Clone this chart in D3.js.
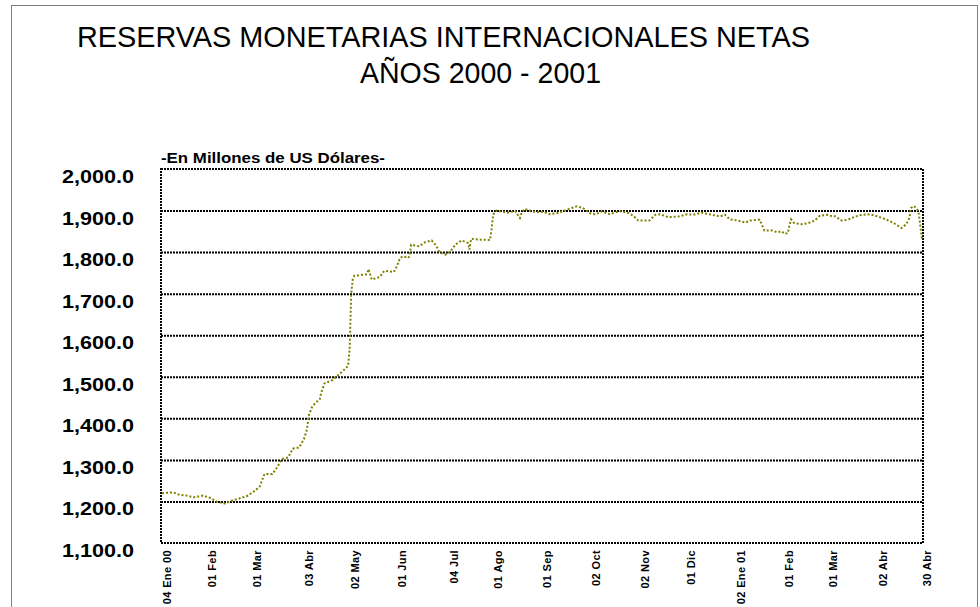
<!DOCTYPE html>
<html>
<head>
<meta charset="utf-8">
<script src="https://cdn.jsdelivr.net/npm/d3@7"></script>
<style>
body { margin: 0; background: #fff; }
text { font-family: "Liberation Sans", Arial, sans-serif; }
</style>
</head>
<body>
<svg id="chart" width="980" height="607"></svg>
<script>
// serie diaria, millones de US$
var dates = [
	'2000-01-04','2000-01-11','2000-01-15','2000-01-20','2000-01-24','2000-01-30','2000-02-04','2000-02-08',
	'2000-02-13','2000-02-18','2000-02-22','2000-02-27','2000-03-03','2000-03-06','2000-03-09','2000-03-14',
	'2000-03-17','2000-03-20','2000-03-24','2000-03-27','2000-03-31','2000-04-03','2000-04-05','2000-04-06',
	'2000-04-08','2000-04-10','2000-04-13','2000-04-14','2000-04-16','2000-04-21','2000-04-28','2000-05-01',
	'2000-05-02','2000-05-03','2000-05-04','2000-05-05','2000-05-12','2000-05-13','2000-05-14','2000-05-16',
	'2000-05-21','2000-05-24','2000-05-30','2000-06-01','2000-06-03','2000-06-05','2000-06-08','2000-06-09',
	'2000-06-10','2000-06-15','2000-06-19','2000-06-23','2000-06-26','2000-06-28','2000-07-02','2000-07-05',
	'2000-07-08','2000-07-12','2000-07-16','2000-07-17','2000-07-18','2000-07-24','2000-07-30','2000-07-31',
	'2000-08-01','2000-08-03','2000-08-10','2000-08-15','2000-08-18','2000-08-19','2000-08-21','2000-08-28',
	'2000-09-02','2000-09-06','2000-09-12','2000-09-18','2000-09-23','2000-09-27','2000-10-01','2000-10-05',
	'2000-10-09','2000-10-14','2000-10-20','2000-10-26','2000-10-29','2000-11-01','2000-11-08','2000-11-12',
	'2000-11-15','2000-11-20','2000-11-27','2000-12-02','2000-12-06','2000-12-11','2000-12-16','2000-12-23',
	'2000-12-26','2000-12-29','2001-01-03','2001-01-08','2001-01-11','2001-01-17','2001-01-18','2001-01-20',
	'2001-01-25','2001-01-28','2001-01-31','2001-02-02','2001-02-04','2001-02-05','2001-02-06','2001-02-08',
	'2001-02-13','2001-02-17','2001-02-21','2001-02-24','2001-03-01','2001-03-04','2001-03-06','2001-03-10',
	'2001-03-14','2001-03-19','2001-03-23','2001-03-28','2001-04-01','2001-04-07','2001-04-12','2001-04-17',
	'2001-04-20','2001-04-22','2001-04-23','2001-04-25','2001-04-27','2001-04-28','2001-04-29','2001-04-30'
];

var values = [
	1220, 1222, 1216, 1214, 1210, 1214, 1208, 1199,
	1195, 1203, 1207, 1213, 1226, 1236, 1266, 1266,
	1282, 1302, 1306, 1327, 1330, 1350, 1374, 1406,
	1426, 1436, 1446, 1462, 1484, 1492, 1515, 1526,
	1566, 1700, 1735, 1743, 1746, 1747, 1759, 1734,
	1740, 1755, 1752, 1766, 1786, 1790, 1786, 1790,
	1818, 1814, 1824, 1828, 1815, 1799, 1794, 1802,
	1818, 1828, 1822, 1806, 1832, 1830, 1829, 1854,
	1890, 1900, 1895, 1899, 1882, 1894, 1904, 1896,
	1897, 1891, 1895, 1904, 1910, 1906, 1894, 1891,
	1898, 1891, 1899, 1894, 1887, 1876, 1876, 1890,
	1891, 1884, 1886, 1891, 1890, 1895, 1891, 1886,
	1890, 1879, 1876, 1871, 1876, 1878, 1870, 1852,
	1852, 1848, 1850, 1844, 1846, 1866, 1879, 1870,
	1867, 1870, 1876, 1887, 1890, 1886, 1886, 1876,
	1878, 1886, 1890, 1891, 1887, 1879, 1870, 1858,
	1867, 1882, 1906, 1911, 1902, 1892, 1862, 1831
];

var tickDates = [
	'2000-01-04','2000-02-01','2000-03-01','2000-04-03','2000-05-02','2000-06-01','2000-07-04','2000-08-01','2000-09-01',
	'2000-10-02','2000-11-02','2000-12-01','2001-01-02','2001-02-01','2001-03-01','2001-04-02','2001-04-30'
];
var tickLabels = [
	'04 Ene 00','01 Feb','01 Mar','03 Abr','02 May','01 Jun','04 Jul','01 Ago','01 Sep',
	'02 Oct','02 Nov','01 Dic','02 Ene 01','01 Feb','01 Mar','02 Abr','30 Abr'
];
var yTicks = [1100, 1200, 1300, 1400, 1500, 1600, 1700, 1800, 1900, 2000];

var titleLines = ['RESERVAS MONETARIAS INTERNACIONALES NETAS', 'AÑOS 2000 - 2001'];
var unitsLabel = '-En Millones de US Dólares-';

var parse = d3.timeParse('%Y-%m-%d');
var series = dates.map(function(d, i) { return { date: parse(d), value: values[i] }; });

var plotLeft = 161, plotRight = 923, plotTop = 169, plotBottom = 543;

var svg = d3.select('#chart');

// marco exterior punteado
svg.append('rect')
.attr('x', 11.5).attr('y', 5.5)
.attr('width', 966).attr('height', 640)
.style('fill', 'none')
.style('stroke', '#000')
.style('stroke-width', 1)
.style('stroke-dasharray', '1,1');

svg.append('text')
.attr('x', 77).attr('y', 47)
.attr('textLength', 733).attr('lengthAdjust', 'spacingAndGlyphs')
.style('font-size', '30px')
.text(titleLines[0]);

svg.append('text')
.attr('x', 360).attr('y', 83)
.attr('textLength', 241).attr('lengthAdjust', 'spacingAndGlyphs')
.style('font-size', '30px')
.text(titleLines[1]);

svg.append('text')
.attr('x', 161).attr('y', 163)
.attr('textLength', 224).attr('lengthAdjust', 'spacingAndGlyphs')
.style('font-size', '14px')
.style('font-weight', 'bold')
.text(unitsLabel);

var x = d3.scaleTime()
.domain([parse('2000-01-04'), parse('2001-04-30')])
.range([162, 922]);

var y = d3.scaleLinear()
.domain([1100, 2000])
.range([plotBottom, plotTop]);

// lineas de grilla
var grid = svg.append('g')
.attr('transform', 'translate(' + plotLeft + ',0)')
.call(d3.axisLeft(y).tickValues(yTicks.slice(1, -1)).tickSize(-(plotRight - plotLeft)).tickFormat(''));
grid.select('.domain').remove();
grid.selectAll('line')
.style('stroke', '#000')
.style('stroke-width', 2)
.style('stroke-dasharray', '2,1');

// etiquetas eje y
svg.append('g')
.selectAll('text')
.data(yTicks)
.enter()
.append('text')
.attr('x', 62)
.attr('y', function(d) { return y(d) + 14; })
.attr('textLength', 72).attr('lengthAdjust', 'spacingAndGlyphs')
.style('font-size', '18px')
.style('font-weight', 'bold')
.text(d3.format(',.1f'));

// marco del area de trazado
svg.append('rect')
.attr('x', plotLeft).attr('y', plotTop)
.attr('width', plotRight - plotLeft).attr('height', plotBottom - plotTop)
.style('fill', 'none')
.style('stroke', '#000')
.style('stroke-width', 2)
.style('stroke-dasharray', '2,1');

var line = d3.line()
.x(function(d) { return x(d.date); })
.y(function(d) { return y(d.value); });

svg.append('path')
.datum(series)
.attr('d', line)
.style('fill', 'none')
.style('stroke', '#808000')
.style('stroke-width', 2)
.style('stroke-dasharray', '2,2');

// eje x con fechas giradas
var xAxis = svg.append('g')
.attr('transform', 'translate(0,' + plotBottom + ')')
.call(d3.axisBottom(x)
	.tickValues(tickDates.map(parse))
	.tickSize(0)
	.tickFormat(function(d, i) { return tickLabels[i]; }));
xAxis.select('.domain').remove();
xAxis.selectAll('text')
.attr('transform', 'rotate(-90)')
.attr('x', -7)
.attr('y', 5)
.attr('dy', '0.35em')
.attr('text-anchor', 'end')
.style('font-family', '"Liberation Sans", Arial, sans-serif')
.style('font-size', '11px')
.style('font-weight', 'bold')
.style('letter-spacing', '0.4px')
.style('fill', '#000');
</script>
</body>
</html>
